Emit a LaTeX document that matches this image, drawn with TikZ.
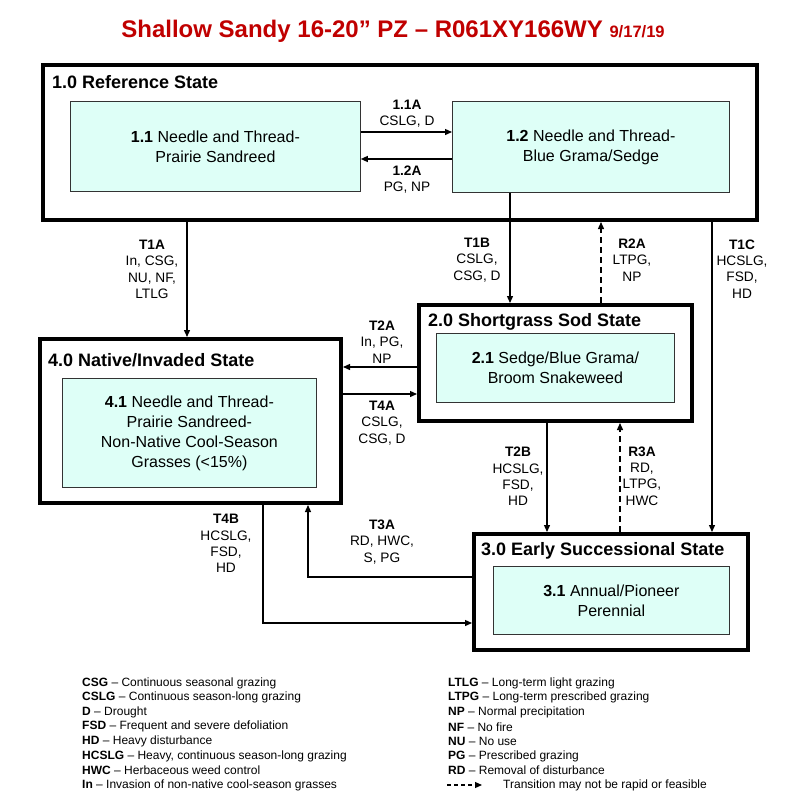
\documentclass[tikz,border=0pt]{standalone}
\usepackage{fontspec}
\setmainfont{Liberation Sans}
\usetikzlibrary{arrows.meta, calc}
\definecolor{titlered}{RGB}{192,0,0}
\definecolor{boxfill}{RGB}{222,255,247}

\begin{document}
\begin{tikzpicture}[x=1pt, y=-1pt]
    \tikzset{
        every node/.style={font=\fontsize{13.7}{16.4}\selectfont, inner sep=0pt},
        statebox/.style={draw, line width=4.4pt, anchor=north west, inner sep=0pt},
        phasebox/.style={draw=black!80, line width=0.8pt, fill=boxfill, anchor=north west,
            align=center, font=\fontsize{16}{20}\selectfont},
        statetitle/.style={anchor=west, font=\bfseries\fontsize{18}{20}\selectfont},
        lab/.style={align=center},
        trans/.style={->, >={Triangle[length=7pt, width=6pt]}, line width=1.3pt},
        maybe/.style={trans, dash pattern=on 6pt off 4pt},
        legend/.style={anchor=west, font=\fontsize{12}{14}\selectfont}
    }
    \useasboundingbox (0,0) rectangle (800,804);

    % 0. 标题
    \node[font=\bfseries\fontsize{24}{28}\selectfont, text=titlered] (title) at (393,31)
        {Shallow Sandy 16-20” PZ – R061XY166WY {\fontsize{16.5}{18}\selectfont 9/17/19}};

    % 1. 状态框 (State)
    \node[statebox, minimum width=713.6pt, minimum height=154.6pt] (S1) at (41,63) {};
    \node[statebox, minimum width=272.6pt, minimum height=115.6pt] (S2) at (417,303) {};
    \node[statebox, minimum width=273.6pt, minimum height=115.6pt] (S3) at (472,532) {};
    \node[statebox, minimum width=300.6pt, minimum height=163.6pt] (S4) at (38,337) {};

    \node[statetitle] (S1t) at (52,82) {1.0 Reference State};
    \node[statetitle] (S2t) at (428,322) {2.0 Shortgrass Sod State};
    \node[statetitle] (S3t) at (481,551) {3.0 Early Successional State};
    \node[statetitle] (S4t) at (48,360) {4.0 Native/Invaded State};

    % 2. 群落框 (Community phase)
    \node[phasebox, minimum width=290pt, minimum height=90pt] (B11) at (70,101)
        {\textbf{1.1} Needle and Thread-\\Prairie Sandreed};
    \node[phasebox, minimum width=277pt, minimum height=91pt] (B12) at (452,101)
        {\textbf{1.2} Needle and Thread-\\Blue Grama/Sedge};
    \node[phasebox, minimum width=238pt, minimum height=69pt] (B21) at (436,333)
        {\textbf{2.1} Sedge/Blue Grama/\\Broom Snakeweed};
    \node[phasebox, minimum width=236pt, minimum height=68pt] (B31) at (493,566)
        {\textbf{3.1} Annual/Pioneer\\Perennial};
    \node[phasebox, minimum width=254pt, minimum height=109pt] (B41) at (62,378)
        {\textbf{4.1} Needle and Thread-\\Prairie Sandreed-\\Non-Native Cool-Season\\Grasses (<15\%)};

    % 3. 连线的行与列
    \coordinate (r11A) at (0,132);
    \coordinate (r12A) at (0,159);
    \coordinate (cT1A) at (187,0);
    \coordinate (cT1B) at (510,0);
    \coordinate (cR2A) at (601,0);
    \coordinate (cT1C) at (712,0);
    \coordinate (rT2A) at (0,367);
    \coordinate (rT4A) at (0,394);
    \coordinate (cT2B) at (547,0);
    \coordinate (cR3A) at (620,0);
    \coordinate (cT3A) at (308,0);
    \coordinate (rT3A) at (0,577);
    \coordinate (cT4B) at (263,0);
    \coordinate (rT4B) at (0,623);

    % 4. 转变 (Transitions)
    \draw[trans] (B11.east |- r11A) -- (B12.west |- r11A);
    \draw[trans] (B12.west |- r12A) -- (B11.east |- r12A);
    \draw[trans] (S1.south -| cT1A) -- (S4.north -| cT1A);
    \draw[trans] (B12.south -| cT1B) -- (S2.north -| cT1B);
    \draw[maybe] (S2.north -| cR2A) -- (S1.south -| cR2A);
    \draw[trans] (S1.south -| cT1C) -- (S3.north -| cT1C);
    \draw[trans] (S2.west |- rT2A) -- (S4.east |- rT2A);
    \draw[trans] (S4.east |- rT4A) -- (S2.west |- rT4A);
    \draw[trans] (S2.south -| cT2B) -- (S3.north -| cT2B);
    \draw[maybe] (S3.north -| cR3A) -- (S2.south -| cR3A);
    \draw[trans] (S3.west |- rT3A) -| (S4.south -| cT3A);
    \draw[trans] (S4.south -| cT4B) |- (S3.west |- rT4B);

    % 5. 标注
    \node[lab] (l11A) at (407,113.5) {\textbf{1.1A}\\CSLG, D};
    \node[lab] (l12A) at (407,179.5) {\textbf{1.2A}\\PG, NP};
    \node[lab] (lT1A) at (152,269.5) {\textbf{T1A}\\In, CSG,\\NU, NF,\\LTLG};
    \node[lab] (lT1B) at (477,260) {\textbf{T1B}\\CSLG,\\CSG, D};
    \node[lab] (lR2A) at (632,260) {\textbf{R2A}\\LTPG,\\NP};
    \node[lab] (lT1C) at (742,269) {\textbf{T1C}\\HCSLG,\\FSD,\\HD};
    \node[lab] (lT2A) at (382,342) {\textbf{T2A}\\In, PG,\\NP};
    \node[lab] (lT4A) at (382,423) {\textbf{T4A}\\CSLG,\\CSG, D};
    \node[lab] (lT2B) at (518,476.5) {\textbf{T2B}\\HCSLG,\\FSD,\\HD};
    \node[lab] (lR3A) at (642,476) {\textbf{R3A}\\RD,\\LTPG,\\HWC};
    \node[lab] (lT3A) at (382,542) {\textbf{T3A}\\RD, HWC,\\S, PG};
    \node[lab] (lT4B) at (226,543.5) {\textbf{T4B}\\HCSLG,\\FSD,\\HD};

    % 6. 图例
    \foreach \k/\t [count=\i] in {CSG/Continuous seasonal grazing,
        CSLG/Continuous season-long grazing, D/Drought,
        FSD/Frequent and severe defoliation, HD/Heavy disturbance,
        {HCSLG/Heavy, continuous season-long grazing},
        HWC/Herbaceous weed control, In/Invasion of non-native cool-season grasses}
        \node[legend] (legL\i) at (82,{683+14.6*(\i-1)}) {\textbf{\k} – \t};
    \foreach \k/\t [count=\i] in {LTLG/Long-term light grazing,
        LTPG/Long-term prescribed grazing, NP/Normal precipitation,
        NF/No fire, NU/No use, PG/Prescribed grazing, RD/Removal of disturbance}
        \node[legend] (legR\i) at (448,{683+14.6*(\i-1)}) {\textbf{\k} – \t};
    \coordinate (kA) at (447,785);
    \coordinate (kB) at (482,785);
    \draw[maybe, line width=1.2pt, dash pattern=on 4pt off 3pt] (kA) -- (kB);
    \node[legend] (legR8) at (503,785) {Transition may not be rapid or feasible};

\end{tikzpicture}
\end{document}
